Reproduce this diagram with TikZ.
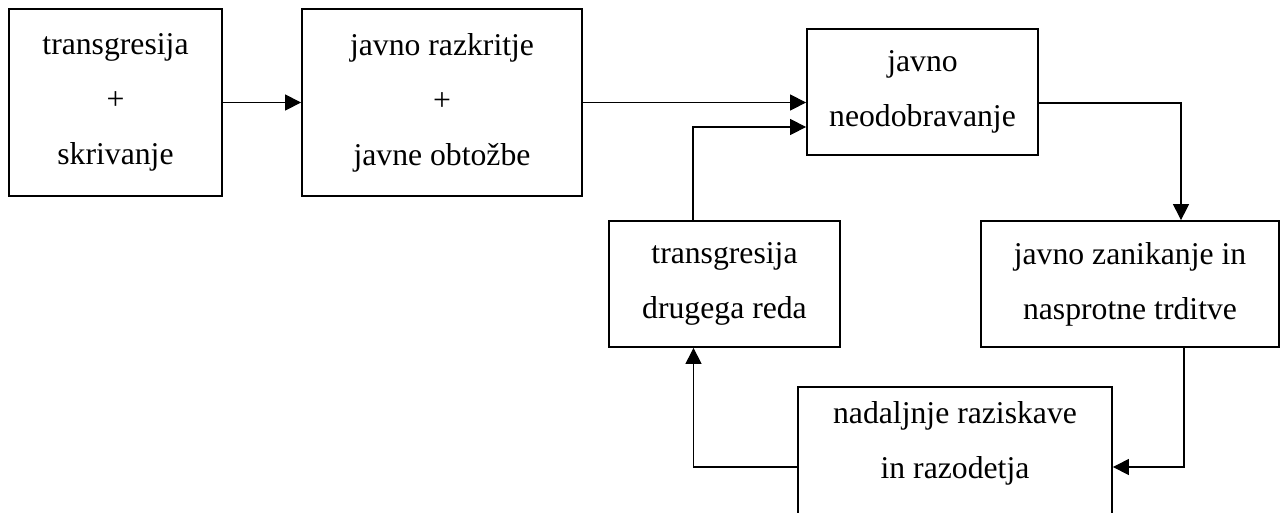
\documentclass[tikz,border=0pt]{standalone}
\usepackage{fontspec}
\setmainfont{Liberation Serif}
\usetikzlibrary{arrows.meta,calc}
\begin{document}
\begin{tikzpicture}[x=1pt,y=-1pt,
  box/.style={draw=black,line width=1.8pt,inner sep=0pt,align=center,
    font=\fontsize{31.7}{55}\selectfont},
  lbl/.style={inner sep=0pt,align=center,font=\fontsize{31.7}{55}\selectfont},
  conn/.style={line width=1.2pt,-{Triangle[length=16pt,width=16pt]}}]
\useasboundingbox (0,0) rectangle (1281,512);
\clip (0,0) rectangle (1281,512);
\fill[white] (0,0) rectangle (1281,512);
\node[box,minimum width=213pt,minimum height=187pt] (b1) at (115.5,102.5)
  {transgresija\\+\\skrivanje};
\node[box,minimum width=280pt,minimum height=187pt] (b2) at (442,102.5)
  {javno razkritje\\+\\javne obtožbe};
\node[box,minimum width=231pt,minimum height=126pt] (b3) at (922.5,92)
  {javno\\neodobravanje};
\node[box,minimum width=298pt,minimum height=126pt] (b4) at (1130,284)
  {javno zanikanje in\\nasprotne trditve};
\node[box,minimum width=231pt,minimum height=126pt] (b6) at (724.5,284)
  {transgresija\\drugega reda};
\node[box,minimum width=314pt,minimum height=160pt] (b5) at (955,467) {};
\node[lbl] (b5t) at (955,443) {nadaljnje raziskave\\in razodetja};
\draw[conn] (b1.east) -- (b2.west);
\draw[conn] (b2.east) -- (b2.east -| b3.west);
\draw[conn] ([xshift=-31.5pt]b6.north) |- ([yshift=-35pt]b3.west);
\draw[conn] ([yshift=-11pt]b3.east) -| ([xshift=51pt]b4.north);
\draw[conn] ([xshift=54pt]b4.south) |- (b5.east);
\draw[conn] (b5.west) -| ([xshift=-31pt]b6.south);
\end{tikzpicture}
\end{document}
